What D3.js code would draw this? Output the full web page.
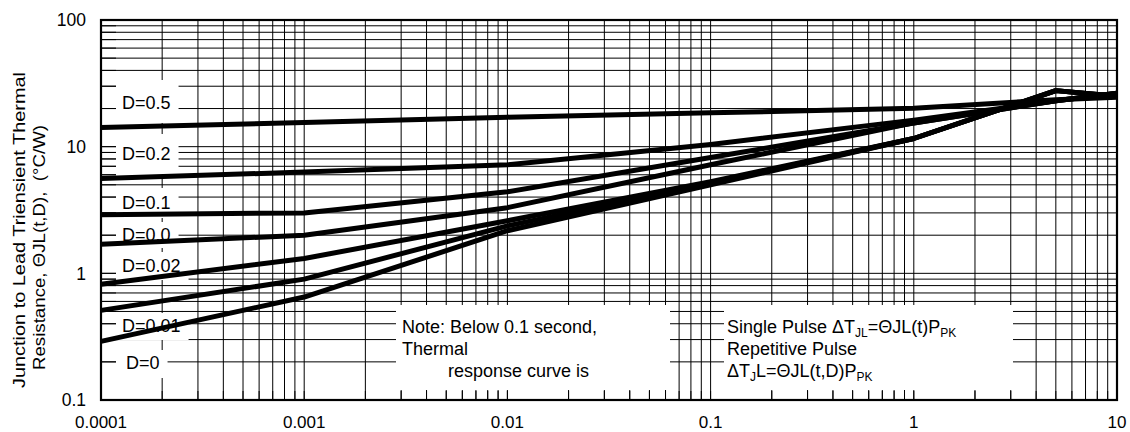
<!DOCTYPE html>
<html><head><meta charset="utf-8">
<script src="https://cdn.jsdelivr.net/npm/d3@7"></script>
<style>body{margin:0;background:#fff} text{font-family:"Liberation Sans",Arial,Helvetica,sans-serif;fill:#000}</style>
</head><body><svg id="c" width="1130" height="432"></svg>
<script>
// ---- data ----
const times = [0.0001, 0.001, 0.01, 0.1, 1, 5, 10];
const seriesNames = ["D=0.5", "D=0.2", "D=0.1", "D=0.0", "D=0.02", "D=0.01", "D=0"];
const d05  = [14.2, 15.5, 17.1, 18.5, 20.1, 23.5, 24.5];
const d02  = [5.6, 6.3, 7.2, 10.4, 16.2, 23.0, 26.4];
const d01  = [2.9, 3.0, 4.4, 8.2, 15.4, 23.0, 26.4];
const d00  = [1.7, 2.0, 3.3, 7.2, 15.4, 23.0, 26.4];
const d002 = [0.82, 1.31, 2.6, 5.3, 11.6, 27.7, 25.0];
const d001 = [0.51, 0.9, 2.37, 5.15, 11.6, 27.7, 25.0];
const d0   = [0.29, 0.65, 2.17, 5.0, 11.6, 27.7, 25.0];
const xTickValues = [0.0001, 0.001, 0.01, 0.1, 1, 10];
const xTickLabels = ["0.0001", "0.001", "0.01", "0.1", "1", "10"];
const yTickValues = [0.1, 1, 10, 100];
const yTickLabels = ["0.1", "1", "10", "100"];
const yTitle1 = "Junction to Lead Triensient Thermal";
const yTitle2 = "Resistance, \u0398JL(t,D),  (\u00B0C/W)";
const noteLines = ["Note: Below 0.1 second,", "Thermal", "response curve is"];

const allSeries = [d05, d02, d01, d00, d002, d001, d0];

// ---- layout ----
const L = 101, R = 1117, T = 20, B = 400;
const svg = d3.select("#c");
const x = d3.scaleLog().domain([0.0001, 10]).range([L, R]);
const y = d3.scaleLog().domain([0.1, 100]).range([B, T]);

// grid values
const xGrid = [];
for (let k = -4; k <= 0; k++) for (let i = 1; i <= 9; i++) xGrid.push(i * Math.pow(10, k));
xGrid.push(10);
const yGrid = [];
for (let k = -1; k <= 1; k++) for (let i = 1; i <= 9; i++) yGrid.push(i * Math.pow(10, k));
yGrid.push(100);

const g = svg.append("g");
g.selectAll("line.vg").data(xGrid).enter().append("line")
  .attr("x1", d => x(d)).attr("x2", d => x(d)).attr("y1", T).attr("y2", B)
  .attr("stroke", "#000").attr("stroke-width", 1);
g.selectAll("line.hg").data(yGrid).enter().append("line")
  .attr("y1", d => y(d)).attr("y2", d => y(d)).attr("x1", L).attr("x2", R)
  .attr("stroke", "#000").attr("stroke-width", 1);

// label boxes (white) for D labels
const labelPos = [
  {x: 122, cy: 103, top: 80, bot: 123},
  {x: 122, cy: 154, top: 134, bot: 176},
  {x: 122, cy: 203, top: 188, bot: 218},
  {x: 122, cy: 235, top: 222, bot: 248},
  {x: 122, cy: 266, top: 252, bot: 280},
  {x: 122, cy: 326, top: 313, bot: 340},
  {x: 126, cy: 363, top: 350, bot: 378}
];
const fs = 18;
const labG = svg.append("g");
const tmp = svg.append("g");
seriesNames.forEach((nm, i) => {
  const p = labelPos[i];
  const t = tmp.append("text").attr("x", p.x).attr("y", p.cy + 6.3).attr("font-size", fs).text(nm);
  const bb = t.node().getBBox();
  labG.append("rect").attr("x", 116).attr("y", p.top)
    .attr("width", bb.x + bb.width + 8 - 116).attr("height", p.bot - p.top).attr("fill", "#fff");
});
tmp.remove();

// note boxes
svg.append("rect").attr("x", 396).attr("y", 305).attr("width", 274).attr("height", 85).attr("fill", "#fff");
svg.append("rect").attr("x", 724).attr("y", 305).attr("width", 289).attr("height", 85).attr("fill", "#fff");

// inner ticks
svg.append("g").selectAll("line").data(yGrid).enter().append("line")
  .attr("x1", L).attr("x2", L + 15).attr("y1", d => y(d)).attr("y2", d => y(d))
  .attr("stroke", "#000").attr("stroke-width", 1);
svg.append("g").selectAll("line").data(xGrid).enter().append("line")
  .attr("x1", d => x(d)).attr("x2", d => x(d)).attr("y1", B).attr("y2", B - 9)
  .attr("stroke", "#000").attr("stroke-width", 1);

// D label texts
seriesNames.forEach((nm, i) => {
  const p = labelPos[i];
  svg.append("text").attr("x", p.x).attr("y", p.cy + 6.3).attr("font-size", fs).text(nm);
});

// curves
const line = d3.line().x((d, i) => x(times[i])).y(d => y(d));
svg.append("g").selectAll("path").data(allSeries).enter().append("path")
  .attr("d", d => line(d)).attr("fill", "none").attr("stroke", "#000")
  .attr("stroke-width", 5).attr("stroke-linejoin", "round");

// frame
svg.append("rect").attr("x", L).attr("y", T).attr("width", R - L).attr("height", B - T)
  .attr("fill", "none").attr("stroke", "#000").attr("stroke-width", 2.2);

// tick labels
svg.append("g").selectAll("text").data(xTickValues).enter().append("text")
  .attr("x", d => x(d)).attr("y", 427.5).attr("text-anchor", "middle").attr("font-size", 17)
  .text((d, i) => xTickLabels[i]);
svg.append("g").selectAll("text").data(yTickValues).enter().append("text")
  .attr("x", 86).attr("y", d => y(d) + 6.3).attr("text-anchor", "end").attr("font-size", 17.5)
  .text((d, i) => yTickLabels[i]);

// y title
svg.append("text").attr("transform", "translate(25,230) rotate(-90)").attr("text-anchor", "middle")
  .attr("font-size", 17).attr("textLength", 316).attr("lengthAdjust", "spacingAndGlyphs").text(yTitle1);
svg.append("text").attr("transform", "translate(44.5,247.5) rotate(-90)").attr("text-anchor", "middle")
  .attr("font-size", 17).attr("textLength", 245).attr("lengthAdjust", "spacingAndGlyphs")
  .style("white-space", "pre").text(yTitle2);

// note text
const nfs = 18;
svg.append("text").attr("x", 402).attr("y", 333).attr("font-size", nfs).text(noteLines[0]);
svg.append("text").attr("x", 402).attr("y", 354.5).attr("font-size", nfs).text(noteLines[1]);
svg.append("text").attr("x", 448).attr("y", 376.5).attr("font-size", nfs).text(noteLines[2]);

// pulse formulas
const sub = (t, s) => t.append("tspan").attr("font-size", 12).attr("dy", 4).text(s);
const nrm = (t, s, back) => t.append("tspan").attr("font-size", nfs).attr("dy", back ? -4 : 0).text(s);
let t1 = svg.append("text").attr("x", 727).attr("y", 333).attr("font-size", nfs);
nrm(t1, "Single Pulse \u0394T"); sub(t1, "JL"); nrm(t1, "=\u0398JL(t)P", true); sub(t1, "PK");
svg.append("text").attr("x", 727).attr("y", 354.5).attr("font-size", nfs).text("Repetitive Pulse");
let t3 = svg.append("text").attr("x", 727).attr("y", 376.5).attr("font-size", nfs);
nrm(t3, "\u0394T"); sub(t3, "J"); nrm(t3, "L=\u0398JL(t,D)P", true); sub(t3, "PK");
</script></body></html>
